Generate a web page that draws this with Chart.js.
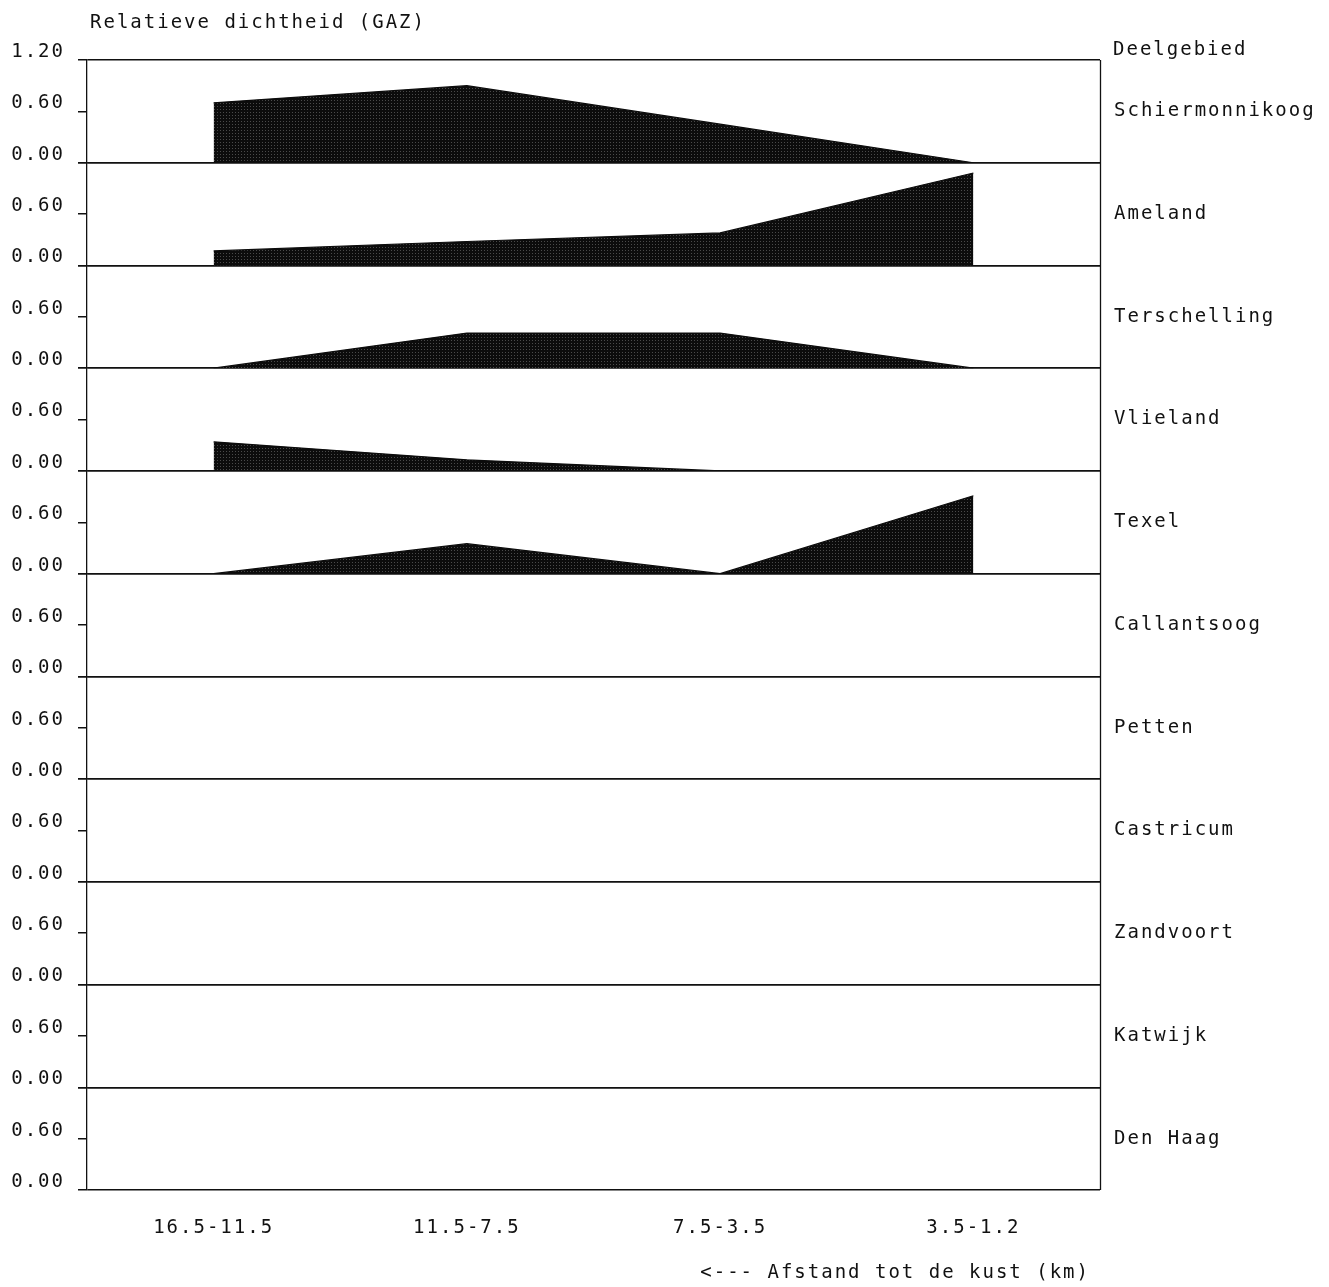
<!DOCTYPE html>
<html>
<head>
<meta charset="utf-8">
<script src="https://cdn.jsdelivr.net/npm/chart.js@4.4.1/dist/chart.umd.min.js"></script>
<style>
    html, body { margin: 0; padding: 0; background: #fff; }
    #wrap { width: 1329px; height: 1287px; }
</style>
</head>
<body>
<div id="wrap"><canvas id="dichtheidChart" width="1329" height="1287"></canvas></div>
<script>
// afstandsklassen (km) en deelgebieden
var afstanden = ["16.5-11.5", "11.5-7.5", "7.5-3.5", "3.5-1.2"];
var deelgebieden = ["Schiermonnikoog", "Ameland", "Terschelling", "Vlieland", "Texel",
    "Callantsoog", "Petten", "Castricum", "Zandvoort", "Katwijk", "Den Haag"];

var schiermonnikoog = [0.70, 0.90, 0.45, 0.00];
var ameland = [0.17, 0.28, 0.38, 1.08];
var terschelling = [0.00, 0.41, 0.41, 0.00];
var vlieland = [0.34, 0.13, 0.00, 0.00];
var texel = [0.00, 0.35, 0.00, 0.91];
var callantsoog = [null, null, null, null];
var petten = [null, null, null, null];
var castricum = [null, null, null, null];
var zandvoort = [null, null, null, null];
var katwijk = [null, null, null, null];
var denHaag = [null, null, null, null];

var yTicks = [0, 0.6, 1.2];

var reeksen = [schiermonnikoog, ameland, terschelling, vlieland, texel,
    callantsoog, petten, castricum, zandvoort, katwijk, denHaag];

var INKT = "#111";
var FONT = { family: "'DejaVu Sans Mono', monospace", size: 19 };

function maakStippel() {
    var c = document.createElement("canvas");
    c.width = 3; c.height = 3;
    var g = c.getContext("2d");
    g.fillStyle = "#0c0c0c";
    g.fillRect(0, 0, 3, 3);
    g.fillStyle = "#4a4a4a";
    g.fillRect(1, 1, 1, 1);
    return g.createPattern(c, "repeat");
}
var stippel = maakStippel();

var tekstPlugin = {
    id: "teksten",
    beforeUpdate: function (chart) { chart.ctx.letterSpacing = "2px"; },
    beforeDraw: function (chart) { chart.ctx.letterSpacing = "2px"; },
    afterDraw: function (chart) {
        var ctx = chart.ctx, area = chart.chartArea;
        ctx.save();
        ctx.strokeStyle = INKT;
        ctx.lineWidth = 1.3;
        ctx.beginPath();
        ctx.moveTo(area.right + 0.5, area.top);
        ctx.lineTo(area.right + 0.5, area.bottom);
        ctx.stroke();

        ctx.fillStyle = INKT;
        ctx.font = FONT.size + "px " + FONT.family;
        ctx.textBaseline = "middle";
        ctx.textAlign = "left";
        ctx.fillText("Relatieve dichtheid (GAZ)", 90, 23);
        ctx.fillText("Deelgebied", area.right + 13, 50);
        deelgebieden.forEach(function (naam, i) {
            var y = chart.scales["y" + i].getPixelForValue(0.6);
            ctx.fillText(naam, area.right + 14, y);
        });
        ctx.textAlign = "right";
        ctx.fillText("<--- Afstand tot de kust (km)", 1090, 1273);
        ctx.restore();
    }
};

var scales = {
    x: {
        type: "category",
        labels: afstanden,
        offset: true,
        grid: { display: false },
        border: { display: false },
        ticks: { font: FONT, color: INKT, padding: 19, maxRotation: 0 },
        afterFit: function (s) { s.height = 97; }
    }
};

deelgebieden.forEach(function (naam, i) {
    scales["y" + i] = {
        type: "linear",
        position: "left",
        stack: "panelen",
        stackWeight: 1,
        weight: deelgebieden.length - i,
        min: 0,
        max: 1.2,
        afterBuildTicks: function (s) {
            s.ticks = yTicks.map(function (v) { return { value: v }; });
        },
        ticks: {
            font: FONT,
            color: INKT,
            padding: 13,
            labelOffset: -8,
            callback: function (v) {
                if (v === 1.2 && i > 0) return "";
                return v.toFixed(2);
            }
        },
        grid: {
            color: function (c) {
                return (c.tick && c.tick.value === 0.6) ? "rgba(0,0,0,0)" : INKT;
            },
            tickColor: INKT,
            tickLength: 9,
            lineWidth: 1.5
        },
        border: { display: true, color: INKT, width: 1.3 },
        afterFit: function (s) { s.width = 87; }
    };
});

var datasets = reeksen.map(function (reeks, i) {
    return {
        label: deelgebieden[i],
        data: reeks,
        yAxisID: "y" + i,
        fill: "origin",
        backgroundColor: stippel,
        borderColor: "#0c0c0c",
        borderWidth: 1.2,
        pointRadius: 0,
        tension: 0
    };
});

new Chart(document.getElementById("dichtheidChart"), {
    type: "line",
    data: { labels: afstanden, datasets: datasets },
    options: {
        responsive: false,
        animation: false,
        layout: { padding: { top: 60, right: 229, bottom: 0, left: 0 } },
        plugins: { legend: { display: false }, tooltip: { enabled: false } },
        scales: scales
    },
    plugins: [tekstPlugin]
});
</script>
</body>
</html>
